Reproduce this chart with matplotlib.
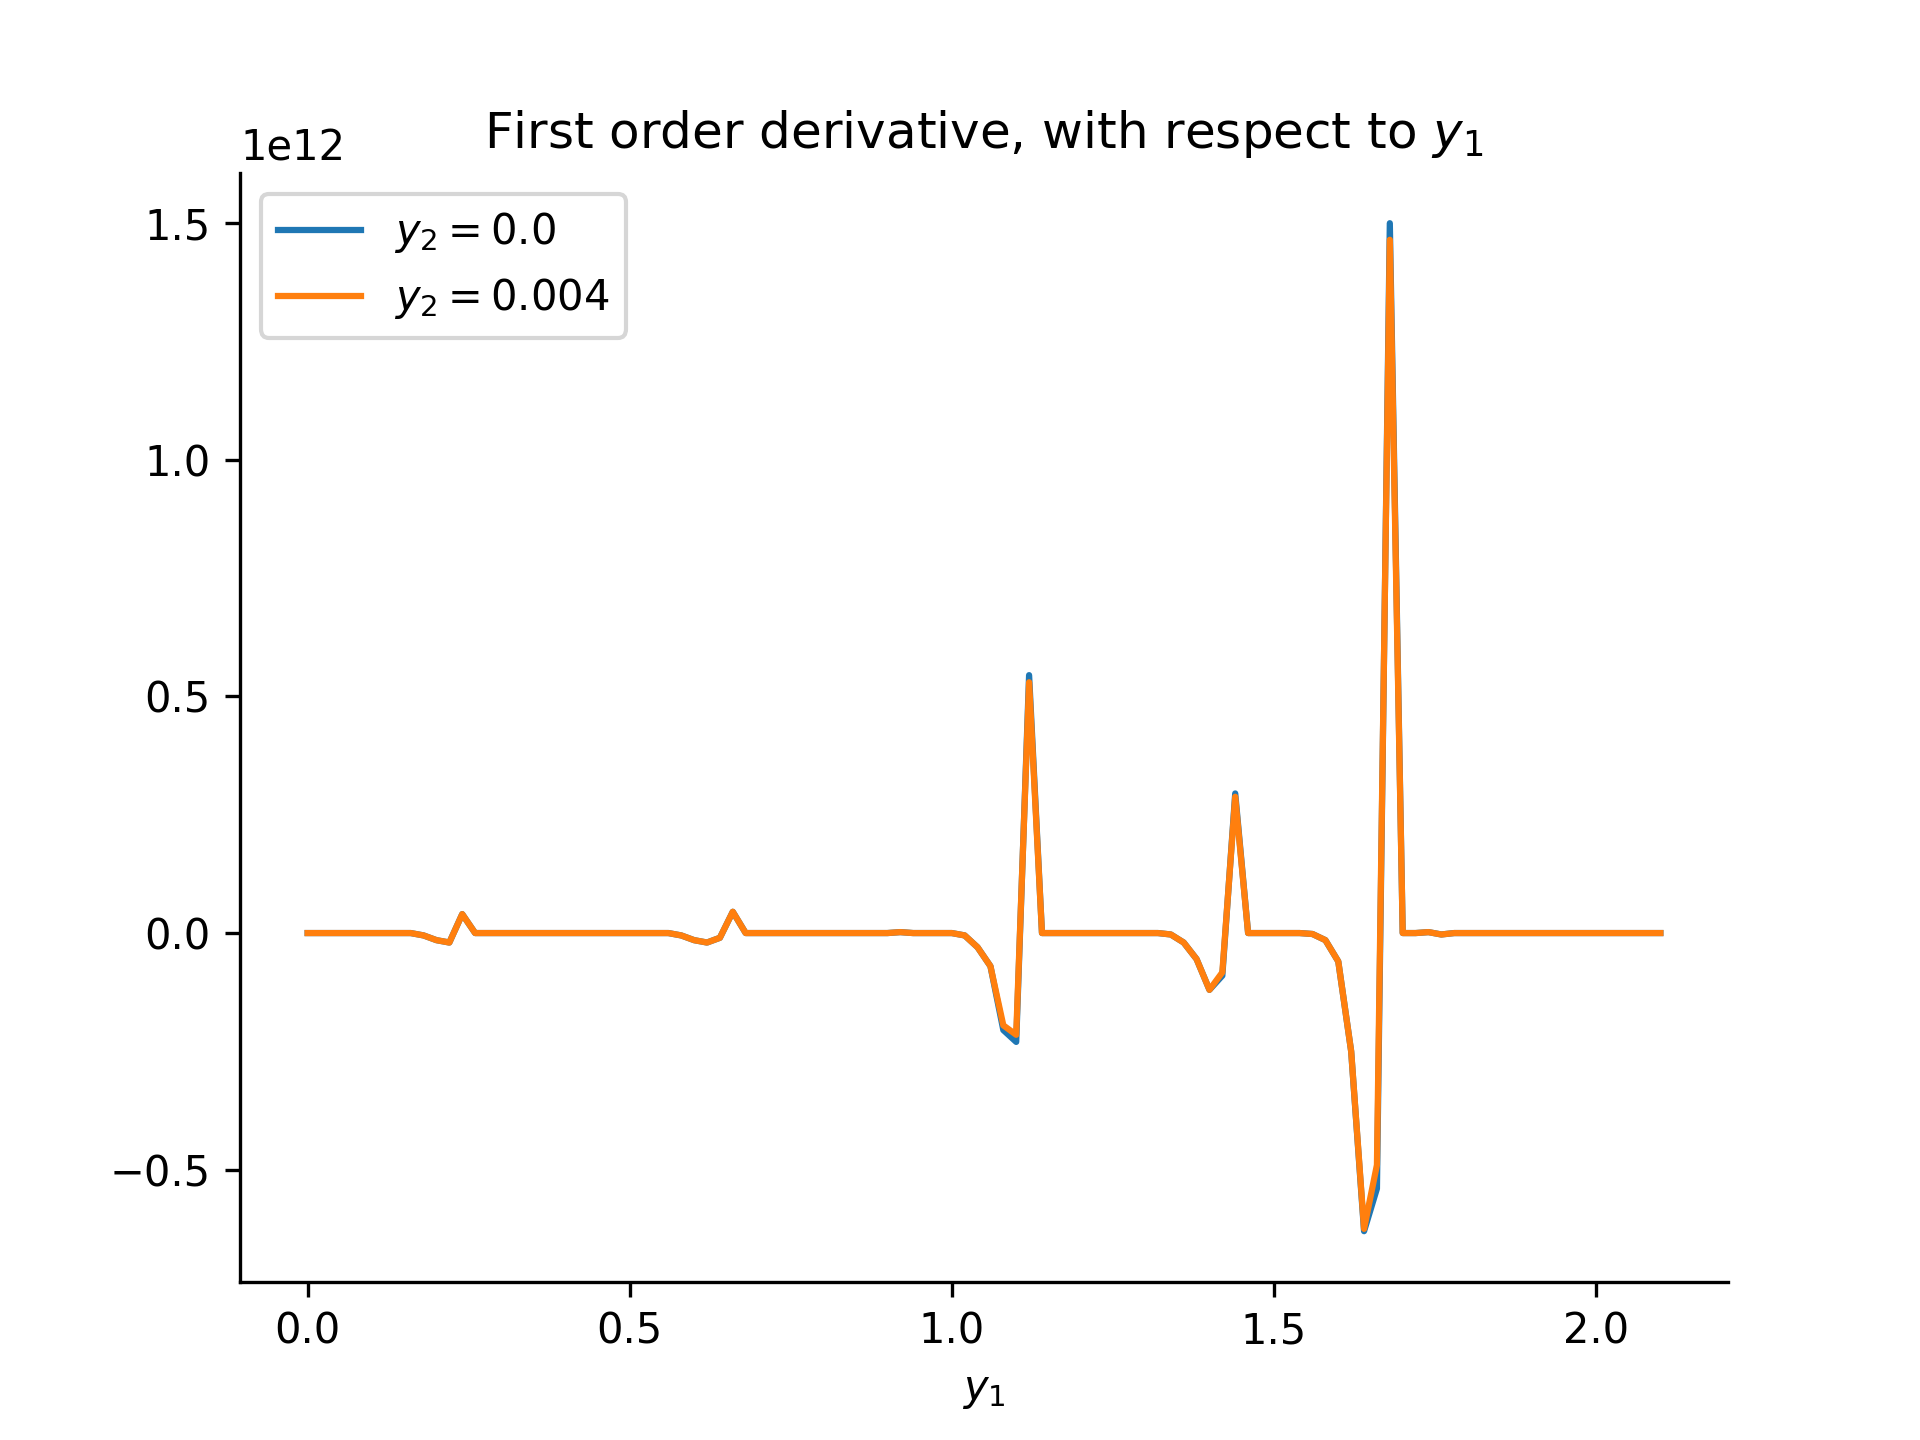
import matplotlib
matplotlib.use("Agg")
import matplotlib.pyplot as plt
import numpy as np

# y1 grid, step 0.02 from 0 to 2.1
y1 = np.round(np.arange(106) * 0.02, 2)

# derivative values in units of 1e12
d_y2_0 = [
    0, 0, 0, 0, 0, 0, 0, 0, 0, -0.005,
    -0.015, -0.02, 0.04, 0, 0, 0, 0, 0, 0, 0,
    0, 0, 0, 0, 0, 0, 0, 0, 0, -0.005,
    -0.015, -0.02, -0.01, 0.045, 0, 0, 0, 0, 0, 0,
    0, 0, 0, 0, 0, 0, 0.002, 0, 0, 0,
    0, -0.005, -0.03, -0.07, -0.205, -0.23, 0.545, 0, 0, 0,
    0, 0, 0, 0, 0, 0, 0, -0.003, -0.02, -0.055,
    -0.12, -0.09, 0.295, 0, 0, 0, 0, 0, -0.002, -0.015,
    -0.06, -0.25, -0.63, -0.54, 1.5, 0, 0, 0.002, -0.003, 0,
    0, 0, 0, 0, 0, 0, 0, 0, 0, 0,
    0, 0, 0, 0, 0, 0,
]
d_y2_004 = [
    0, 0, 0, 0, 0, 0, 0, 0, 0, -0.005,
    -0.015, -0.02, 0.04, 0, 0, 0, 0, 0, 0, 0,
    0, 0, 0, 0, 0, 0, 0, 0, 0, -0.005,
    -0.015, -0.02, -0.01, 0.045, 0, 0, 0, 0, 0, 0,
    0, 0, 0, 0, 0, 0, 0.002, 0, 0, 0,
    0, -0.005, -0.03, -0.07, -0.195, -0.215, 0.53, 0, 0, 0,
    0, 0, 0, 0, 0, 0, 0, -0.003, -0.02, -0.055,
    -0.12, -0.083, 0.288, 0, 0, 0, 0, 0, -0.002, -0.015,
    -0.06, -0.25, -0.625, -0.49, 1.465, 0, 0, 0.002, -0.003, 0,
    0, 0, 0, 0, 0, 0, 0, 0, 0, 0,
    0, 0, 0, 0, 0, 0,
]

fig, ax = plt.subplots(figsize=(6.4, 4.8), dpi=300)
ax.plot(y1, np.array(d_y2_0) * 1e12, color="#1f77b4", label=r"$y_2 = 0.0$")
ax.plot(y1, np.array(d_y2_004) * 1e12, color="#ff7f0e", label=r"$y_2 = 0.004$")
ax.set_title(r"First order derivative, with respect to $y_1$")
ax.set_xlabel(r"$y_1$")
ax.spines["top"].set_visible(False)
ax.spines["right"].set_visible(False)
ax.legend(loc="upper left")
fig.savefig("out.png")
